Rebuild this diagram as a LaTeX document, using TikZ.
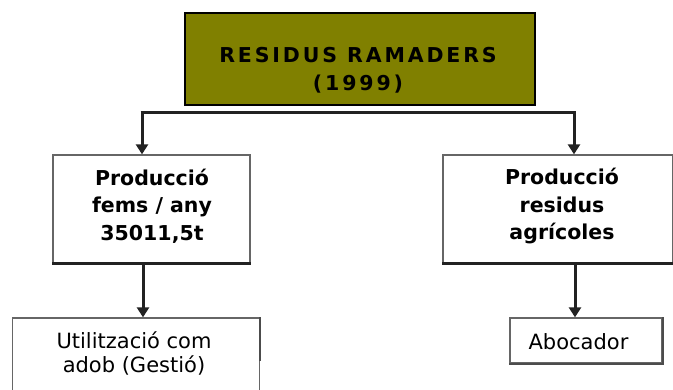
\documentclass[tikz,border=0pt]{standalone}
\usepackage{fontspec}
\setmainfont{DejaVu Sans}
\newfontfamily\titlefont[LetterSpace=14]{DejaVu Sans}
\usetikzlibrary{arrows.meta}
\definecolor{olivebox}{HTML}{808000}
\definecolor{linedark}{HTML}{222222}
\tikzset{
  x=1pt, y=-1pt,
  plainbox/.style={draw=gray!80!black, line width=1.3pt, fill=white, inner sep=0pt},
  shade/.style={draw=linedark, line width=2.6pt},
  conn/.style={draw=linedark, line width=3pt},
  arrow/.style={conn, -{Triangle[width=12pt,length=10pt]}},
  boldtxt/.style={font=\fontsize{20.5}{27.5}\selectfont\bfseries, align=center, inner sep=0pt, anchor=base},
  normtxt/.style={font=\fontsize{21}{24}\selectfont, align=center, inner sep=0pt, anchor=base},
}
\begin{document}
\begin{tikzpicture}
\useasboundingbox (0,0) rectangle (673,389);
% title
\node[draw=black, line width=2.5pt, fill=olivebox, minimum width=350pt, minimum height=92pt, inner sep=0pt] (title) at (360,59) {};
\node[font=\fontsize{20.5}{28}\titlefont\bfseries, align=center, inner sep=0pt, anchor=base] (titleT) at (358,90) {RESIDUS RAMADERS\\(1999)};
% middle boxes
\node[plainbox, minimum width=197pt, minimum height=108pt] (fems) at (151.5,209) {};
\draw[shade] (fems.south west) -- (fems.south east);
\node[boldtxt] (femsT) at (152,240) {Producció\\fems / any\\35011,5t};
\node[plainbox, minimum width=230pt, minimum height=108pt] (agri) at (558,209) {};
\draw[shade] (agri.south west) -- (agri.south east);
\node[boldtxt] (agriT) at (562,239.5) {Producció\\residus\\agrícoles};
% bottom boxes
\node[plainbox, minimum width=247pt, minimum height=90pt] (util) at (136,363) {};
\draw[shade, line width=2pt, draw=gray!60!black] (util.north east) -- ([yshift=-44pt]util.north east);
\node[normtxt] (utilT) at (134,372) {Utilització com\\adob (Gestió)};
\node[plainbox, minimum width=152pt, minimum height=45pt] (abo) at (586,340.5) {};
\draw[shade, line width=2pt, draw=gray!60!black] (abo.north east) -- (abo.south east) -- (abo.south west);
\node[normtxt] (aboT) at (578.5,349) {Abocador};
% connectors
\coordinate (barL) at (142,112);
\coordinate (barR) at (574,112);
\draw[conn] ([xshift=-1.5pt]barL) -- ([xshift=1.5pt]barR);
\draw[arrow] (barL) -- (barL |- fems.north);
\draw[arrow] (barR) -- (barR |- agri.north);
\coordinate (colL) at (143,0);
\coordinate (colR) at (575,0);
\draw[arrow] (colL |- fems.south) -- (colL |- util.north);
\draw[arrow] (colR |- agri.south) -- (colR |- abo.north);
\end{tikzpicture}
\end{document}
